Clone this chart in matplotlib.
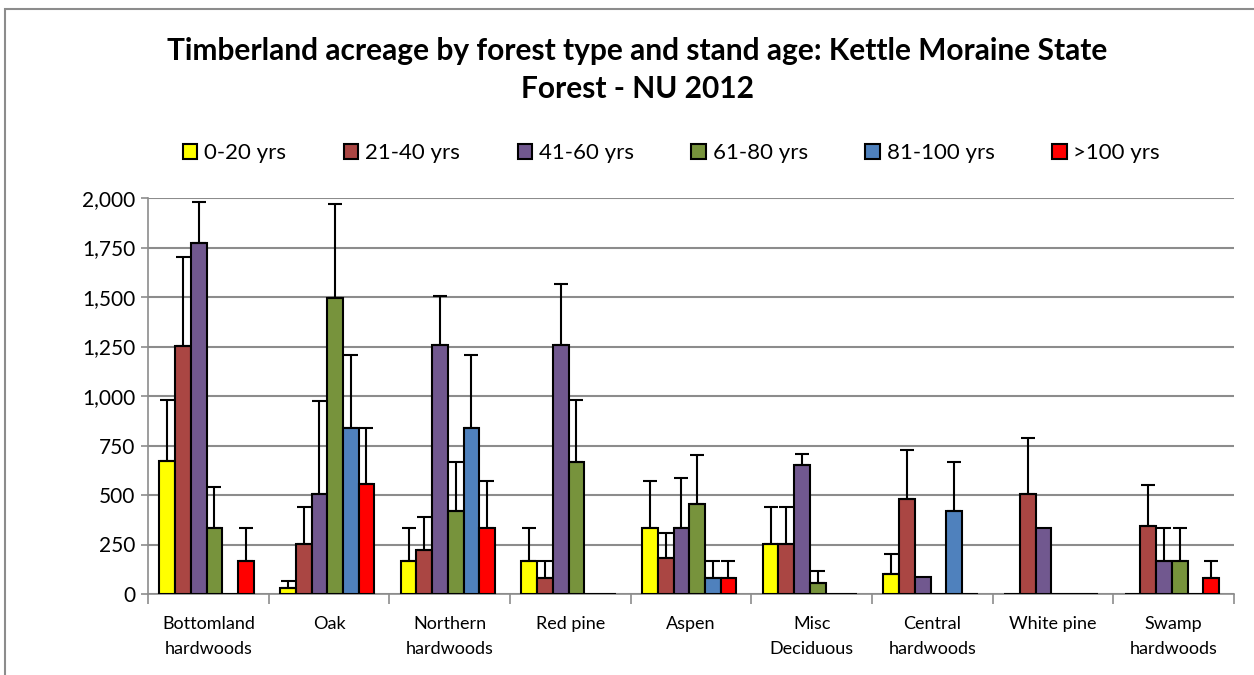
import numpy as np
import matplotlib
matplotlib.use('Agg')
import matplotlib.pyplot as plt
from matplotlib.patches import Rectangle
from matplotlib.ticker import FuncFormatter, FixedLocator

plt.rcParams['font.family'] = ['Lato', 'DejaVu Sans']

categories = ['Bottomland\nhardwoods', 'Oak', 'Northern\nhardwoods', 'Red pine', 'Aspen',
              'Misc\nDeciduous', 'Central\nhardwoods', 'White pine', 'Swamp\nhardwoods']
series = ['0-20 yrs', '21-40 yrs', '41-60 yrs', '61-80 yrs', '81-100 yrs', '>100 yrs']
colors = ['#FFFF00', '#AA4643', '#71588F', '#77933C', '#4F81BD', '#FF0000']

# acres per forest type, one list per age class
age_0_20 = [670, 32, 168, 168, 335, 252, 99, 0, 0]
age_21_40 = [1255, 252, 224, 83, 180, 252, 478, 503, 342]
age_41_60 = [1775, 503, 1256, 1256, 335, 650, 84, 335, 168]
age_61_80 = [335, 1493, 418, 668, 453, 57, 0, 0, 168]
age_81_100 = [0, 837, 837, 0, 83, 0, 419, 0, 0]
age_100_plus = [168, 557, 333, 0, 83, 0, 0, 0, 83]

# upper sampling error (acres)
err_0_20 = [310, 35, 165, 165, 236, 186, 101, 0, 0]
err_21_40 = [445, 186, 165, 85, 128, 186, 249, 286, 207]
err_41_60 = [203, 472, 247, 310, 252, 57, 0, 0, 167]
err_61_80 = [205, 475, 250, 310, 249, 59, 0, 0, 167]
err_81_100 = [0, 372, 372, 0, 85, 0, 249, 0, 0]
err_100_plus = [165, 283, 238, 0, 85, 0, 0, 0, 85]

values = [age_0_20, age_21_40, age_41_60, age_61_80, age_81_100, age_100_plus]
errors = [err_0_20, err_21_40, err_41_60, err_61_80, err_81_100, err_100_plus]

fig = plt.figure(figsize=(12.54, 6.75), dpi=100)
ax = fig.add_axes([148 / 1254, 81 / 675, (1234 - 148) / 1254, 396 / 675])

x = np.arange(len(categories))
w = 0.13
for i, (vals, errs, c, name) in enumerate(zip(values, errors, colors, series)):
  pos = x + (i - 2.5) * w - 0.015
  errs = np.array(errs)
  ax.bar(pos, vals, w, color=c, edgecolor='black', linewidth=1.5, label=name, zorder=3)
  has = errs > 0
  ax.errorbar(pos[has], np.array(vals)[has], yerr=[np.zeros(has.sum()), errs[has]],
              fmt='none', ecolor='black', elinewidth=1.5, capsize=5, capthick=1.5, zorder=4)

ax.set_xlim(-0.5, len(categories) - 0.5)
ax.set_ylim(0, 2000)
ax.set_yticks(np.arange(0, 2001, 250))
ax.yaxis.set_major_formatter(FuncFormatter(lambda v, p: f'{int(v):,}'))
ax.grid(axis='y', color='#8c8c8c', linewidth=1.5, zorder=0)
ax.set_axisbelow(True)

ax.set_xticks(x)
ax.set_xticklabels(categories, fontsize=13, linespacing=1.7)
ax.tick_params(axis='x', length=0, pad=16)
ax.xaxis.set_minor_locator(FixedLocator(np.arange(-0.5, len(categories), 1)))
ax.tick_params(axis='x', which='minor', length=7, color='#8c8c8c', width=1.2)
ax.tick_params(axis='y', labelsize=15, length=5, color='#8c8c8c', width=1.2, pad=4)

for s in ['top', 'right']:
  ax.spines[s].set_visible(False)
for s in ['left', 'bottom']:
  ax.spines[s].set_color('#8c8c8c')
  ax.spines[s].set_linewidth(1.2)

fig.text(0.508, 0.896, 'Timberland acreage by forest type and stand age: Kettle Moraine State\nForest - NU 2012',
         ha='center', va='center', fontsize=21.5, fontweight='bold', linespacing=1.45)

ax.legend(loc='center', bbox_to_anchor=(0.482, 1.113), ncol=6, frameon=False, fontsize=16,
          handlelength=0.65, handleheight=0.65, handletextpad=0.3, columnspacing=2.6)

fig.add_artist(Rectangle((5 / 1254, -0.1), 1.2, 1.1 - 9 / 675, transform=fig.transFigure,
                         fill=False, edgecolor='#8c8c8c', linewidth=1.5))

fig.savefig('out.png', dpi=100)
